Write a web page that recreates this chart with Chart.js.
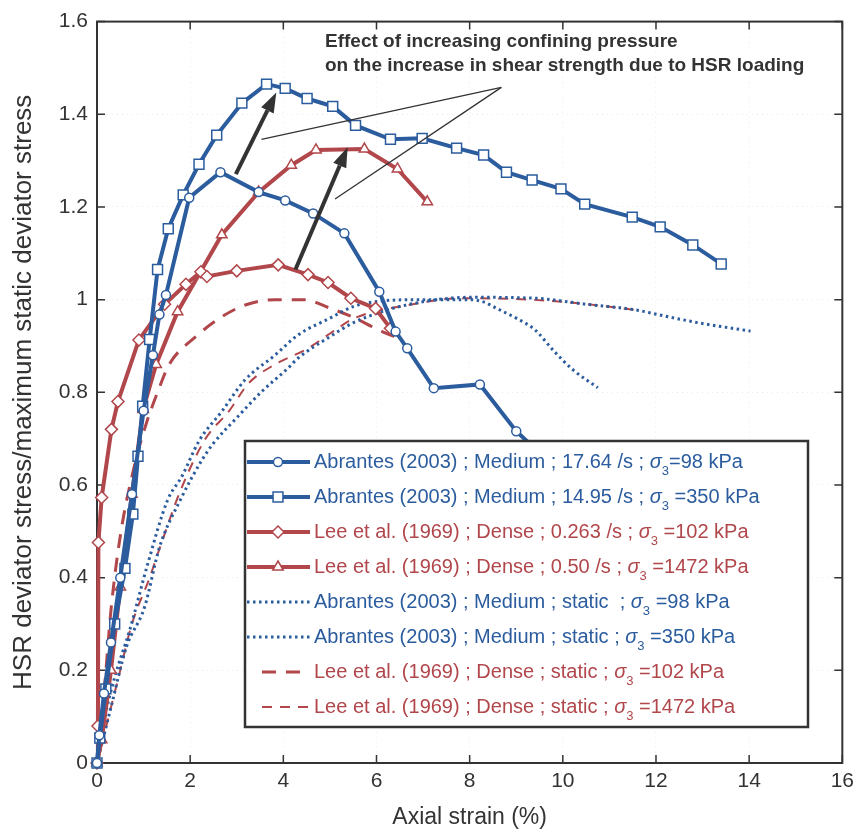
<!DOCTYPE html>
<html>
<head>
<meta charset="utf-8">
<script src="https://cdn.jsdelivr.net/npm/chart.js@4/dist/chart.umd.min.js"></script>
<style>
  html, body { margin: 0; padding: 0; background: #fff; }
  #wrap { width: 860px; height: 833px; position: relative; }
</style>
</head>
<body>
<div id="wrap"><canvas id="chart"></canvas></div>
<script>
// axial strain (%) / normalised deviator stress for each test
const abrHsr98X  = [0, 0.05, 0.15, 0.3, 0.5, 0.75, 1.0, 1.2, 1.34, 1.48, 1.98, 2.65, 3.47, 4.04, 4.64, 5.31, 6.06, 6.41, 6.66, 7.23, 8.22, 9.0, 9.6];
const abrHsr98Y  = [0, 0.06, 0.15, 0.26, 0.4, 0.58, 0.76, 0.88, 0.968, 1.01, 1.22, 1.275, 1.232, 1.214, 1.186, 1.143, 1.017, 0.931, 0.895, 0.809, 0.817, 0.716, 0.66];

const abrHsr350X = [0, 0.06, 0.19, 0.38, 0.6, 0.77, 0.88, 0.98, 1.13, 1.3, 1.53, 1.85, 2.19, 2.57, 3.11, 3.64, 4.04, 4.51, 5.06, 5.55, 6.3, 6.98, 7.72, 8.3, 8.79, 9.34, 9.96, 10.47, 11.49, 12.09, 12.79, 13.4];
const abrHsr350Y = [0, 0.054, 0.16, 0.3, 0.42, 0.537, 0.662, 0.77, 0.914, 1.065, 1.153, 1.226, 1.292, 1.355, 1.424, 1.465, 1.456, 1.434, 1.417, 1.376, 1.346, 1.348, 1.327, 1.312, 1.275, 1.258, 1.239, 1.206, 1.178, 1.157, 1.118, 1.077];

const leeHsr102X  = [0, 0.02, 0.03, 0.1, 0.31, 0.45, 0.9, 1.45, 1.91, 2.23, 2.36, 3.0, 3.89, 4.53, 4.96, 5.45, 5.98, 6.3];
const leeHsr102Y  = [0, 0.08, 0.476, 0.573, 0.72, 0.78, 0.913, 0.99, 1.033, 1.06, 1.05, 1.062, 1.075, 1.054, 1.037, 1.003, 0.981, 0.938];

const leeHsr1472X = [0, 0.1, 0.3, 0.5, 0.75, 0.99, 1.27, 1.73, 2.68, 3.47, 4.17, 4.7, 5.74, 6.45, 7.09];
const leeHsr1472Y = [0, 0.05, 0.2, 0.38, 0.58, 0.763, 0.86, 0.974, 1.14, 1.232, 1.29, 1.323, 1.325, 1.282, 1.211];

const abrSta98X  = [0, 0.15, 0.38, 0.7, 1.09, 1.51, 1.83, 2.19, 2.68, 3.18, 3.82, 4.32, 5.0, 5.5, 6.0, 7.0, 8.0, 8.3, 8.6, 9.0, 9.4, 9.8, 10.2, 10.75];
const abrSta98Y  = [0, 0.09, 0.185, 0.286, 0.43, 0.566, 0.62, 0.695, 0.759, 0.827, 0.88, 0.924, 0.96, 0.985, 0.996, 1.0, 1.0, 0.995, 0.98, 0.96, 0.935, 0.89, 0.85, 0.81];

const abrSta350X = [0, 0.3, 0.63, 1.02, 1.34, 1.8, 2.26, 2.5, 3.0, 3.54, 4.1, 4.32, 5.0, 5.5, 6.0, 6.5, 7.3, 8.0, 9.4, 10.5, 11.55, 12.26, 12.97, 14.03];
const abrSta350Y = [0, 0.12, 0.25, 0.336, 0.465, 0.57, 0.655, 0.69, 0.745, 0.802, 0.852, 0.874, 0.92, 0.95, 0.97, 0.985, 1.0, 1.005, 1.003, 0.99, 0.978, 0.963, 0.949, 0.932];

const leeSta102X  = [0, 0.15, 0.3, 0.5, 0.8, 1.05, 1.3, 1.55, 2.12, 2.68, 3.2, 3.82, 4.46, 4.96, 5.5, 6.0, 6.5];
const leeSta102Y  = [0, 0.15, 0.33, 0.49, 0.64, 0.73, 0.8, 0.86, 0.92, 0.963, 0.989, 1.0, 1.0, 0.983, 0.962, 0.937, 0.915];

const leeSta1472X = [0, 0.2, 0.45, 0.75, 1.13, 1.34, 1.8, 2.33, 2.83, 3.26, 3.82, 4.53, 5.02, 5.53, 6.72, 7.87, 9.28, 10.34, 11.55];
const leeSta1472Y = [0, 0.08, 0.18, 0.3, 0.4, 0.462, 0.59, 0.70, 0.759, 0.82, 0.86, 0.895, 0.928, 0.96, 0.989, 1.003, 1.0, 0.992, 0.978];

const xTicks = [0, 2, 4, 6, 8, 10, 12, 14, 16];
const yTicks = [0, 0.2, 0.4, 0.6, 0.8, 1, 1.2, 1.4, 1.6];

// legend text, split around the sigma_3 symbol
const legendPre = [
  'Abrantes (2003) ; Medium ; 17.64 /s ; ',
  'Abrantes (2003) ; Medium ; 14.95 /s ; ',
  'Lee et al. (1969) ; Dense ; 0.263 /s ; ',
  'Lee et al. (1969) ; Dense ; 0.50 /s ; ',
  'Abrantes (2003) ; Medium ; static  ; ',
  'Abrantes (2003) ; Medium ; static ; ',
  'Lee et al. (1969) ; Dense ; static ; ',
  'Lee et al. (1969) ; Dense ; static ; '
];
const legendPost = ['=98 kPa', ' =350 kPa', ' =102 kPa', ' =1472 kPa', ' =98 kPa', ' =350 kPa', ' =102 kPa', ' =1472 kPa'];

const noteLines = ['Effect of increasing confining pressure', 'on the increase in shear strength due to HSR loading'];
// arrows [x0, y0, x1, y1] and pointer lines from the note, in data units
const noteArrows = [[2.98, 1.271, 3.85, 1.447], [4.26, 1.065, 5.38, 1.329]];
const notePointers = [[8.68, 1.458, 3.53, 1.346], [8.68, 1.458, 5.11, 1.217]];

const BLUE = '#2b5c9e';
const RED = '#b1464b';
const INK = '#333333';
const FONT = "'Liberation Sans', Arial, sans-serif";

function pts(xs, ys) { return xs.map((x, i) => ({ x, y: ys[i] })); }

function hsr(data, color, style, radius) {
  return {
    data, showLine: true, borderColor: color, borderWidth: 4, tension: 0,
    pointStyle: style, pointRadius: radius, pointBackgroundColor: '#fff',
    pointBorderColor: color, pointBorderWidth: 1.5, clip: false
  };
}
function stat(data, color, width, dash) {
  return {
    data, showLine: true, borderColor: color, borderWidth: width, borderDash: dash,
    cubicInterpolationMode: 'monotone', pointRadius: 0, clip: false
  };
}

const datasets = [
  hsr(pts(abrHsr98X, abrHsr98Y), BLUE, 'circle', 4.5),
  hsr(pts(abrHsr350X, abrHsr350Y), BLUE, 'rect', 7),
  hsr(pts(leeHsr102X, leeHsr102Y), RED, 'rectRot', 6),
  hsr(pts(leeHsr1472X, leeHsr1472Y), RED, 'triangle', 6),
  stat(pts(abrSta98X, abrSta98Y), BLUE, 3, [2.5, 3.5]),
  stat(pts(abrSta350X, abrSta350Y), BLUE, 3, [2.5, 3.5]),
  stat(pts(leeSta102X, leeSta102Y), RED, 3, [14, 10]),
  stat(pts(leeSta1472X, leeSta1472Y), RED, 2, [10, 8])
];

function marker(ctx, style, x, y, r, color) {
  ctx.save();
  ctx.setLineDash([]);
  ctx.fillStyle = '#fff';
  ctx.strokeStyle = color;
  ctx.lineWidth = 1.5;
  ctx.beginPath();
  if (style === 'circle') ctx.arc(x, y, r, 0, Math.PI * 2);
  else if (style === 'rect') { const s = r * Math.SQRT1_2; ctx.rect(x - s, y - s, 2 * s, 2 * s); }
  else if (style === 'rectRot') { ctx.moveTo(x, y - r); ctx.lineTo(x + r, y); ctx.lineTo(x, y + r); ctx.lineTo(x - r, y); ctx.closePath(); }
  else { ctx.moveTo(x, y - r); ctx.lineTo(x + r * 0.87, y + r * 0.5); ctx.lineTo(x - r * 0.87, y + r * 0.5); ctx.closePath(); }
  ctx.fill();
  ctx.stroke();
  ctx.restore();
}

// box frame with inward ticks on all four sides
const framePlugin = {
  id: 'frame',
  beforeDatasetsDraw(chart) {
    const { ctx, chartArea: a, scales } = chart;
    ctx.save();
    ctx.strokeStyle = INK;
    ctx.lineWidth = 2;
    ctx.strokeRect(a.left, a.top, a.right - a.left, a.bottom - a.top);
    ctx.lineWidth = 1.5;
    ctx.beginPath();
    xTicks.forEach(v => {
      const px = scales.x.getPixelForValue(v);
      ctx.moveTo(px, a.bottom); ctx.lineTo(px, a.bottom - 8);
      ctx.moveTo(px, a.top); ctx.lineTo(px, a.top + 8);
    });
    yTicks.forEach(v => {
      const py = scales.y.getPixelForValue(v);
      ctx.moveTo(a.left, py); ctx.lineTo(a.left + 8, py);
      ctx.moveTo(a.right, py); ctx.lineTo(a.right - 8, py);
    });
    ctx.stroke();
    ctx.restore();
  }
};

const legendPlugin = {
  id: 'boxLegend',
  afterDatasetsDraw(chart) {
    const ctx = chart.ctx;
    const bx = 245, by = 441, bw = 563, bh = 286;
    ctx.save();
    ctx.fillStyle = '#fff';
    ctx.fillRect(bx, by, bw, bh);
    ctx.strokeStyle = INK;
    ctx.lineWidth = 2.5;
    ctx.strokeRect(bx, by, bw, bh);

    datasets.forEach((ds, i) => {
      const y = 462 + i * 35;
      ctx.save();
      ctx.strokeStyle = ds.borderColor;
      ctx.lineWidth = ds.borderWidth;
      ctx.setLineDash(ds.borderDash || []);
      ctx.beginPath();
      const x0 = ds.borderDash && ds.borderDash[0] > 5 ? 262 : 247;
      ctx.moveTo(x0, y);
      ctx.lineTo(310, y);
      ctx.stroke();
      ctx.restore();
      if (ds.pointRadius) marker(ctx, ds.pointStyle, 278, y, ds.pointRadius, ds.borderColor);

      ctx.fillStyle = ds.borderColor;
      ctx.textBaseline = 'middle';
      ctx.textAlign = 'left';
      let tx = 314;
      ctx.font = '20px ' + FONT;
      ctx.fillText(legendPre[i], tx, y);
      tx += ctx.measureText(legendPre[i]).width;
      ctx.font = 'italic 20px ' + FONT;
      ctx.fillText('σ', tx, y);
      tx += ctx.measureText('σ').width;
      ctx.font = '13px ' + FONT;
      ctx.fillText('3', tx, y + 9);
      tx += ctx.measureText('3').width;
      ctx.font = '20px ' + FONT;
      ctx.fillText(legendPost[i], tx, y);
    });
    ctx.restore();
  }
};

const notePlugin = {
  id: 'note',
  afterDatasetsDraw(chart) {
    const { ctx, scales } = chart;
    const px = v => scales.x.getPixelForValue(v);
    const py = v => scales.y.getPixelForValue(v);
    ctx.save();
    ctx.strokeStyle = INK;
    ctx.lineWidth = 1.3;
    notePointers.forEach(p => {
      ctx.beginPath();
      ctx.moveTo(px(p[0]), py(p[1]));
      ctx.lineTo(px(p[2]), py(p[3]));
      ctx.stroke();
    });
    ctx.fillStyle = INK;
    ctx.lineWidth = 4;
    noteArrows.forEach(p => {
      const x0 = px(p[0]), y0 = py(p[1]), x1 = px(p[2]), y1 = py(p[3]);
      const ang = Math.atan2(y1 - y0, x1 - x0);
      const hl = 20, hw = 7;
      const bxp = x1 - Math.cos(ang) * hl, byp = y1 - Math.sin(ang) * hl;
      ctx.beginPath();
      ctx.moveTo(x0, y0);
      ctx.lineTo(bxp, byp);
      ctx.stroke();
      ctx.beginPath();
      ctx.moveTo(x1, y1);
      ctx.lineTo(bxp + Math.sin(ang) * hw, byp - Math.cos(ang) * hw);
      ctx.lineTo(bxp - Math.sin(ang) * hw, byp + Math.cos(ang) * hw);
      ctx.closePath();
      ctx.fill();
    });
    ctx.font = 'bold 19px ' + FONT;
    ctx.textAlign = 'left';
    ctx.textBaseline = 'middle';
    ctx.fillText(noteLines[0], 325, 42);
    ctx.fillText(noteLines[1], 325, 66);
    ctx.restore();
  }
};

Chart.defaults.font.family = FONT;

new Chart(document.getElementById('chart'), {
  type: 'scatter',
  data: { datasets },
  options: {
    responsive: true,
    maintainAspectRatio: false,
    animation: false,
    layout: { padding: { top: 18, right: 12, left: 0, bottom: 0 } },
    plugins: { legend: { display: false }, tooltip: { enabled: false } },
    scales: {
      x: {
        type: 'linear', min: 0, max: 16,
        afterFit: s => { s.height = 70; },
        afterBuildTicks: s => { s.ticks = xTicks.map(v => ({ value: v })); },
        ticks: { font: { size: 21 }, color: INK, padding: 6 },
        grid: { color: 'rgba(0,0,0,0.08)', drawTicks: false },
        border: { display: false, dash: [1, 4] },
        title: { display: true, text: 'Axial strain (%)', font: { size: 23 }, color: INK, padding: { top: 0, bottom: 2 } }
      },
      y: {
        type: 'linear', min: 0, max: 1.6,
        afterFit: s => { s.width = 97; },
        afterBuildTicks: s => { s.ticks = yTicks.map(v => ({ value: v })); },
        ticks: { font: { size: 21 }, color: INK, padding: 9, callback: v => String(+v.toFixed(1)) },
        grid: { color: 'rgba(0,0,0,0.08)', drawTicks: false },
        border: { display: false, dash: [1, 4] },
        title: { display: true, text: 'HSR deviator stress/maximum static deviator stress', font: { size: 26 }, color: INK, padding: { top: 8, bottom: 0 } }
      }
    }
  },
  plugins: [framePlugin, legendPlugin, notePlugin]
});
</script>
</body>
</html>
